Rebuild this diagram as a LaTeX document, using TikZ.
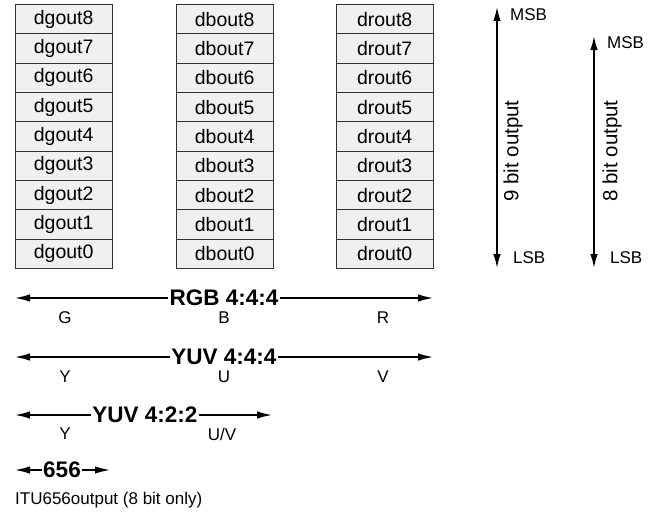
\documentclass[tikz,border=0pt]{standalone}
\usepackage{fontspec}
\setmainfont{Liberation Sans}
\usetikzlibrary{arrows.meta}
\begin{document}
\begin{tikzpicture}[x=1pt,y=-1pt,
  cell/.style={draw=black!80,line width=0.8pt,fill=black!6,minimum width=96.5pt,minimum height=29.33pt,inner sep=0pt,anchor=north west,font=\fontsize{19.5}{21}\selectfont},
  lab/.style={inner sep=0pt,font=\fontsize{17}{19}\selectfont},
  blab/.style={inner sep=1.5pt,font=\bfseries\fontsize{22.5}{24}\selectfont},
  rlab/.style={inner sep=0pt,rotate=90,font=\fontsize{20.5}{22}\selectfont},
  arr/.style={line width=1.5pt,-{Latex[length=15pt,width=7.5pt]}},
  varr/.style={line width=1.5pt,{Latex[length=14pt,width=7.5pt]}-{Latex[length=14pt,width=7.5pt]}}
]
\useasboundingbox (0,0) rectangle (656,515);
% columns
\foreach \i in {0,...,8}{
  \pgfmathsetmacro{\yy}{4+(8-\i)*29.33}
  \node[cell] (g\i) at (15,\yy) {dgout\i};
  \node[cell] (b\i) at (176,\yy) {dbout\i};
  \node[cell] (r\i) at (336,\yy) {drout\i};
}
% RGB
\node[blab] (rgb) at (224,298) {RGB 4:4:4};
\coordinate (rgbL) at (15,298);
\coordinate (rgbR) at (433,298);
\draw[arr] (rgb.west) -- (rgbL);
\draw[arr] (rgb.east) -- (rgbR);
\node[lab] (lg) at (65,318) {G};
\node[lab] (lb) at (224,318) {B};
\node[lab] (lr) at (383,318) {R};
% YUV 444
\node[blab] (yuva) at (224,357) {YUV 4:4:4};
\coordinate (yaL) at (15,357);
\coordinate (yaR) at (433,357);
\draw[arr] (yuva.west) -- (yaL);
\draw[arr] (yuva.east) -- (yaR);
\node[lab] (ly) at (65,377) {Y};
\node[lab] (lu) at (224,377) {U};
\node[lab] (lv) at (383,377) {V};
% YUV 422
\node[blab] (yuvb) at (145,415) {YUV 4:2:2};
\coordinate (ybL) at (15,415);
\coordinate (ybR) at (272,415);
\draw[arr] (yuvb.west) -- (ybL);
\draw[arr] (yuvb.east) -- (ybR);
\node[lab] (ly2) at (65,434) {Y};
\node[lab] (luv) at (222,434) {U/V};
% 656
\node[blab] (six) at (62,470) {656};
\coordinate (sL) at (15,470);
\coordinate (sR) at (110,470);
\draw[arr] (six.west) -- (sL);
\draw[arr] (six.east) -- (sR);
\node[lab,anchor=west] (itu) at (15,500) {ITU656output (8 bit only)};
% vertical 9 bit
\coordinate (n9t) at (497,7);
\coordinate (n9b) at (497,268);
\draw[varr] (n9t) -- (n9b);
\node[lab,anchor=west] (msb9) at (510,15) {MSB};
\node[lab,anchor=west] (lsb9) at (513,258) {LSB};
\node[rlab] (t9) at (513,151) {9 bit output};
% vertical 8 bit
\coordinate (n8t) at (594,36);
\coordinate (n8b) at (594,268);
\draw[varr] (n8t) -- (n8b);
\node[lab,anchor=west] (msb8) at (607,43) {MSB};
\node[lab,anchor=west] (lsb8) at (610,258) {LSB};
\node[rlab] (t8) at (612,151) {8 bit output};
\end{tikzpicture}
\end{document}
